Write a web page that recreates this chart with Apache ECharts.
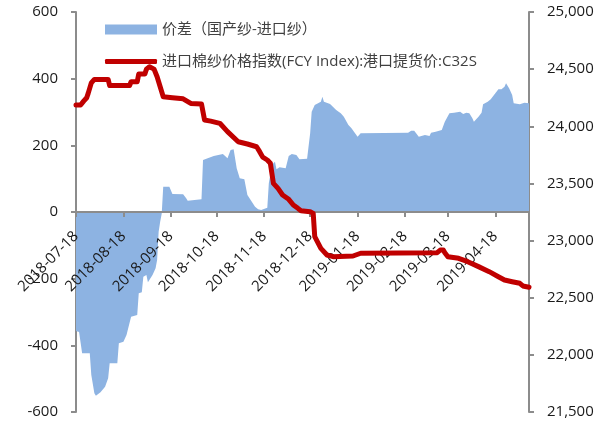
<!DOCTYPE html>
<html>
<head>
<meta charset="utf-8">
<script src="https://cdn.jsdelivr.net/npm/echarts@6/dist/echarts.min.js"></script>
<style>
  html, body { margin: 0; padding: 0; background: #ffffff; }
  #chart { width: 610px; height: 425px; }
</style>
</head>
<body>
<div id="chart"></div>
<script>
// Daily axis range
const startDate = '2018-07-18';
const endDate = '2019-05-10';

// 价差（国产纱-进口纱）, left axis
const spreadDates = [
  '2018-07-18','2018-07-20','2018-07-22','2018-07-27','2018-07-28','2018-07-30','2018-07-31',
  '2018-08-03','2018-08-06','2018-08-08','2018-08-09','2018-08-14','2018-08-15','2018-08-18',
  '2018-08-20','2018-08-23','2018-08-27','2018-08-28','2018-08-30','2018-08-31','2018-09-02',
  '2018-09-03','2018-09-06','2018-09-08','2018-09-09','2018-09-10','2018-09-11','2018-09-12',
  '2018-09-13','2018-09-17','2018-09-19','2018-09-26','2018-09-28','2018-09-29','2018-10-08',
  '2018-10-09','2018-10-10','2018-10-16','2018-10-22','2018-10-25','2018-10-27','2018-10-29',
  '2018-10-31','2018-11-02','2018-11-05','2018-11-07','2018-11-12','2018-11-14','2018-11-16',
  '2018-11-17','2018-11-20','2018-11-21','2018-11-23','2018-11-25','2018-11-26','2018-11-28',
  '2018-12-02','2018-12-04','2018-12-06','2018-12-09','2018-12-11','2018-12-16','2018-12-18',
  '2018-12-19','2018-12-21','2018-12-25','2018-12-26','2018-12-27','2018-12-31','2019-01-04',
  '2019-01-07','2019-01-09','2019-01-12','2019-01-14','2019-01-15','2019-01-18','2019-01-20',
  '2019-02-20','2019-02-22','2019-02-24','2019-02-27','2019-03-03','2019-03-06','2019-03-07',
  '2019-03-10','2019-03-14','2019-03-15','2019-03-16','2019-03-19','2019-03-22','2019-03-26',
  '2019-03-28','2019-03-30','2019-04-01','2019-04-03','2019-04-04','2019-04-07','2019-04-09',
  '2019-04-10','2019-04-13','2019-04-15','2019-04-18','2019-04-20','2019-04-22','2019-04-24',
  '2019-04-25','2019-04-27','2019-04-29','2019-04-30','2019-05-04','2019-05-07','2019-05-10'
];
const spreadValues = [
  -357, -360, -424, -424, -489, -544, -551,
  -541, -524, -499, -454, -454, -394, -389,
  -369, -314, -309, -244, -241, -194, -189,
  -211, -189, -169, -144, -59, -29, -5,
  76, 76, 54, 53, 41, 34, 38,
  156, 161, 168, 174, 161, 186, 188,
  131, 101, 98, 51, 16, 8, 6,
  11, 13, 86, 141, 151, 128, 134,
  131, 168, 174, 171, 158, 160, 236,
  301, 321, 331, 346, 331, 324, 306,
  296, 286, 261, 251, 246, 226, 236,
  238, 244, 244, 226, 231, 228, 238,
  241, 246, 248, 271, 296, 298, 301,
  294, 298, 296, 281, 271, 286, 298,
  323, 331, 338, 356, 368, 368, 376,
  386, 371, 351, 326, 323, 328, 326
];

// 进口棉纱价格指数(FCY Index):港口提货价:C32S, right axis
const indexDates = [
  '2018-07-18','2018-07-21','2018-07-23','2018-07-25','2018-07-26','2018-07-28','2018-07-30',
  '2018-08-08','2018-08-09','2018-08-22','2018-08-23','2018-08-27','2018-08-28','2018-09-01',
  '2018-09-02','2018-09-04','2018-09-07','2018-09-09','2018-09-11','2018-09-13','2018-09-19',
  '2018-09-26','2018-10-01','2018-10-08','2018-10-10','2018-10-14','2018-10-20','2018-10-25',
  '2018-11-01','2018-11-07','2018-11-13','2018-11-15','2018-11-17','2018-11-20','2018-11-22',
  '2018-11-24','2018-11-27','2018-11-30','2018-12-04','2018-12-07','2018-12-10','2018-12-12',
  '2018-12-18','2018-12-20','2018-12-21','2018-12-25','2018-12-29','2019-01-02','2019-01-15',
  '2019-01-20','2019-03-11','2019-03-13','2019-03-15','2019-03-16','2019-03-18','2019-03-25',
  '2019-03-31','2019-04-07','2019-04-14','2019-04-20','2019-04-24','2019-04-29','2019-05-04',
  '2019-05-06','2019-05-10'
];
const indexValues = [
  24186, 24186, 24220, 24250, 24290, 24380, 24410,
  24410, 24356, 24356, 24390, 24390, 24457, 24457,
  24500, 24521, 24500, 24434, 24346, 24259, 24250,
  24240, 24200, 24195, 24055, 24045, 24026, 23953,
  23865, 23845, 23821, 23778, 23730, 23705, 23676,
  23501, 23457, 23399, 23361, 23311, 23282, 23261,
  23253, 23238, 23034, 22932, 22874, 22859, 22865,
  22889, 22894, 22917, 22917, 22894, 22859, 22845,
  22815, 22772, 22728, 22684, 22655, 22640, 22626,
  22603, 22591
];

const spreadName = '价差（国产纱-进口纱）';
const indexName = '进口棉纱价格指数(FCY Index):港口提货价:C32S';

// Axis scales
const leftMin = -600, leftMax = 600, leftStep = 200;
const rightMin = 21500, rightMax = 25000, rightStep = 500;
const labelDay = '-18';

// Plot box
const gridLeft = 76, gridRight = 81, gridTop = 12, gridBottom = 13, chartHeight = 425;

function dayList(start, end) {
  const out = [];
  const d = new Date(start + 'T00:00:00Z');
  const e = new Date(end + 'T00:00:00Z');
  while (d <= e) {
    out.push(d.toISOString().slice(0, 10));
    d.setUTCDate(d.getUTCDate() + 1);
  }
  return out;
}

const categories = dayList(startDate, endDate);
const toPairs = (dates, vals) => dates.map((d, i) => [categories.indexOf(d), vals[i]]);
const isLabelDay = (idx, val) => val.endsWith(labelDay);

// The date axis is drawn in a second grid whose bottom edge is the left axis' zero line
const plotHeight = chartHeight - gridTop - gridBottom;
const zeroFromBottom = gridBottom + plotHeight * (0 - leftMin) / (leftMax - leftMin);

const font = '"Open Sans", "Noto Sans CJK SC", sans-serif';
const axisGrey = '#8c8c8c';
const textColor = '#1a1a1a';
const legendText = { fontSize: 15, color: '#404040', fontFamily: font };

const chart = echarts.init(document.getElementById('chart'), null, { renderer: 'canvas' });
chart.setOption({
  animation: false,
  backgroundColor: '#ffffff',
  grid: [
    { left: gridLeft, right: gridRight, top: gridTop, bottom: gridBottom, containLabel: false, outerBoundsMode: 'none' },
    { left: gridLeft, right: gridRight, top: gridTop, bottom: zeroFromBottom, containLabel: false, outerBoundsMode: 'none' }
  ],
  legend: [
    {
      left: 100, top: 17,
      itemWidth: 52, itemHeight: 10,
      textStyle: legendText,
      data: [{ name: spreadName, icon: 'rect' }]
    },
    {
      left: 100, top: 49,
      itemWidth: 52, itemHeight: 5,
      textStyle: legendText,
      data: [{ name: indexName, icon: 'roundRect' }]
    }
  ],
  xAxis: [
    {
      type: 'category',
      gridIndex: 0,
      data: categories,
      boundaryGap: false,
      show: false
    },
    {
      type: 'category',
      gridIndex: 1,
      data: categories,
      boundaryGap: false,
      position: 'bottom',
      z: 5,
      axisLine: { onZero: false, lineStyle: { color: axisGrey, width: 2 } },
      axisTick: { show: true, interval: isLabelDay, length: 5, lineStyle: { color: axisGrey, width: 2 } },
      axisLabel: { interval: isLabelDay, rotate: 45, fontSize: 15, color: textColor, margin: 22, fontFamily: font },
      splitLine: { show: false }
    }
  ],
  yAxis: [
    {
      type: 'value',
      gridIndex: 0,
      position: 'left',
      min: leftMin, max: leftMax, interval: leftStep,
      axisLine: { show: true, lineStyle: { color: axisGrey, width: 2 } },
      axisTick: { show: true, length: 5, lineStyle: { color: axisGrey, width: 2 } },
      axisLabel: { fontSize: 15, color: textColor, margin: 18, fontFamily: font },
      splitLine: { show: false }
    },
    {
      type: 'value',
      gridIndex: 0,
      position: 'right',
      min: rightMin, max: rightMax, interval: rightStep,
      axisLine: { show: true, lineStyle: { color: axisGrey, width: 2 } },
      axisTick: { show: true, length: 5, lineStyle: { color: axisGrey, width: 2 } },
      axisLabel: {
        fontSize: 15, color: textColor, margin: 18, fontFamily: font,
        formatter: v => v.toLocaleString('en-US')
      },
      splitLine: { show: false }
    },
    {
      type: 'value',
      gridIndex: 1,
      min: 0, max: 1,
      show: false
    }
  ],
  series: [
    {
      name: spreadName,
      type: 'line',
      xAxisIndex: 0,
      yAxisIndex: 0,
      data: toPairs(spreadDates, spreadValues),
      symbol: 'none',
      lineStyle: { width: 0 },
      itemStyle: { color: '#8db3e2' },
      areaStyle: { color: '#8db3e2', opacity: 1 },
      z: 1
    },
    {
      name: indexName,
      type: 'line',
      xAxisIndex: 0,
      yAxisIndex: 1,
      data: toPairs(indexDates, indexValues),
      symbol: 'none',
      lineStyle: { color: '#c00000', width: 5, join: 'round', cap: 'round' },
      itemStyle: { color: '#c00000' },
      z: 6
    }
  ]
});
</script>
</body>
</html>
